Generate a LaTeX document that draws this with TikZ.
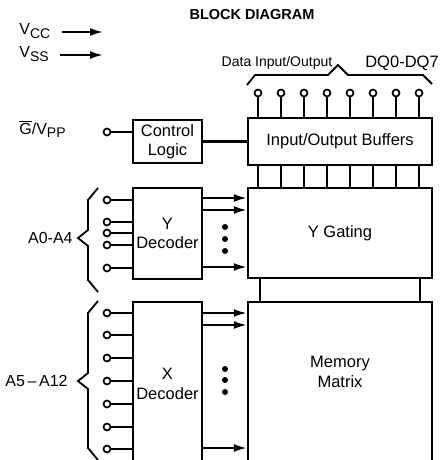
\documentclass[tikz,border=0pt]{standalone}
\usepackage{fontspec}
\setmainfont{Liberation Sans}
\usetikzlibrary{arrows.meta,positioning}

\newcommand{\lowsub}[1]{\raisebox{-3.5pt}{\fontsize{14}{14}\selectfont #1}}

\begin{document}
\begin{tikzpicture}[x=1pt,y=-1pt,line width=2.1pt,
        blk/.style={draw,line width=2.4pt,inner sep=0pt,align=center,font=\fontsize{16.5}{19.5}\selectfont},
        blktext/.style={align=center,font=\fontsize{16.5}{19.5}\selectfont},
        pin/.style={draw,circle,line width=1.7pt,fill=white,inner sep=0pt,minimum size=7pt},
        sig/.style={-{Latex[length=13pt,width=8pt]}},
        lbl/.style={font=\fontsize{16}{18}\selectfont}]
        \useasboundingbox (0,0) rectangle (441,460);
        \clip (0,0) rectangle (441,460);
        % title and supply pins
        \node[font=\bfseries\fontsize{14.5}{16}\selectfont] (title) at (252,15) {BLOCK DIAGRAM};
        \node[lbl,anchor=base west] (vcc) at (15,35) {V\lowsub{CC}};
        \node[lbl,anchor=base west] (vss) at (15,58) {V\lowsub{SS}};
        \coordinate (vccend) at (103,32);
        \coordinate (vssend) at (103,55);
        \draw[sig,shorten <=7pt] (vcc.east |- vccend) -- (vccend);
        \draw[sig,shorten <=7pt] (vss.east |- vssend) -- (vssend);
        % blocks
        \node[blk,minimum width=184pt,minimum height=47pt] (io) at (340,141.5) {Input/Output Buffers};
        \node[blk,minimum width=69pt,minimum height=43pt] (ctrl) at (167.5,141.5) {Control\\Logic};
        \node[blk,minimum width=184pt,minimum height=90pt] (ygate) at (340,233) {Y Gating};
        \node[blk,minimum width=69pt,minimum height=91pt] (ydec) at (167.5,233.5) {Y\\Decoder};
        \node[blk,minimum width=184pt,minimum height=180pt,anchor=north] (mem) at (340,301) {};
        \node[blk,minimum width=69pt,minimum height=180pt,anchor=north] (xdec) at (167.5,301) {};
        \node[blktext] (memtxt) at (340,372) {Memory\\Matrix};
        \node[blktext] (xdectxt) at (167.5,384) {X\\Decoder};
        % data bus
        \node[lbl,font=\fontsize{14}{16}\selectfont] (datalbl) at (277,63) {Data Input/Output};
        \node[font=\fontsize{16.5}{18}\selectfont] (dqlbl) at (402,63) {DQ0-DQ7};
        \draw[line width=1.8pt] (247,85) -- (255,75) -- (328,75) -- (338,65) -- (348,75) -- (423,75) -- (432,84);
        \foreach \i in {1,...,8}{
            \node[pin] (dq\i) at (235+23*\i,93) {};
            \draw (dq\i) -- (dq\i |- io.north);
            \draw (dq\i |- io.south) -- (dq\i |- ygate.north);
        }
        \draw (ctrl) -- (io);
        \draw ([xshift=-80pt]ygate.south) -- ([xshift=-80pt]mem.north);
        \draw ([xshift=80pt]ygate.south) -- ([xshift=80pt]mem.north);
        % control pin
        \node[lbl,anchor=base west] (gvpp) at (15,134) {$\overline{\hbox{G}}$/V\lowsub{PP}};
        \node[pin] (gpin) at (107,132) {};
        \draw (gpin) -- (gpin -| ctrl.west);
        % address inputs
        \foreach \y [count=\i] in {200,222,233,245,268}{
            \node[pin] (ya\i) at (107,\y) {};
            \draw (ya\i) -- (ya\i -| ydec.west);
        }
        \foreach \y [count=\i] in {313,335,358,381,404,427,449}{
            \node[pin] (xa\i) at (107,\y) {};
            \draw (xa\i) -- (xa\i -| xdec.west);
        }
        \draw[line width=1.8pt] (98,188) -- (88,200) -- (88,230) -- (78,238) -- (88,246) -- (88,280) -- (98,292);
        \draw[line width=1.8pt] (98,301) -- (88,313) -- (88,373) -- (78,381) -- (88,389) -- (88,448) -- (98,460);
        \node[font=\fontsize{16}{18}\selectfont,anchor=east] (alo) at (77,238) {A0-A4};
        \node[font=\fontsize{16}{18}\selectfont,anchor=east] (ahi) at (72,381) {A5\,–\,A12};
        % decoder outputs
        \foreach \y in {198,210,267}{
            \coordinate (yo) at (0,\y);
            \draw[sig] (ydec.east |- yo) -- (ygate.west |- yo);
        }
        \foreach \y in {313,325,448}{
            \coordinate (xo) at (0,\y);
            \draw[sig] (xdec.east |- xo) -- (mem.west |- xo);
        }
        \foreach \y in {227,239,251,369,380,392}{\fill (225,\y) circle (3pt);}
    \end{tikzpicture}
\end{document}
